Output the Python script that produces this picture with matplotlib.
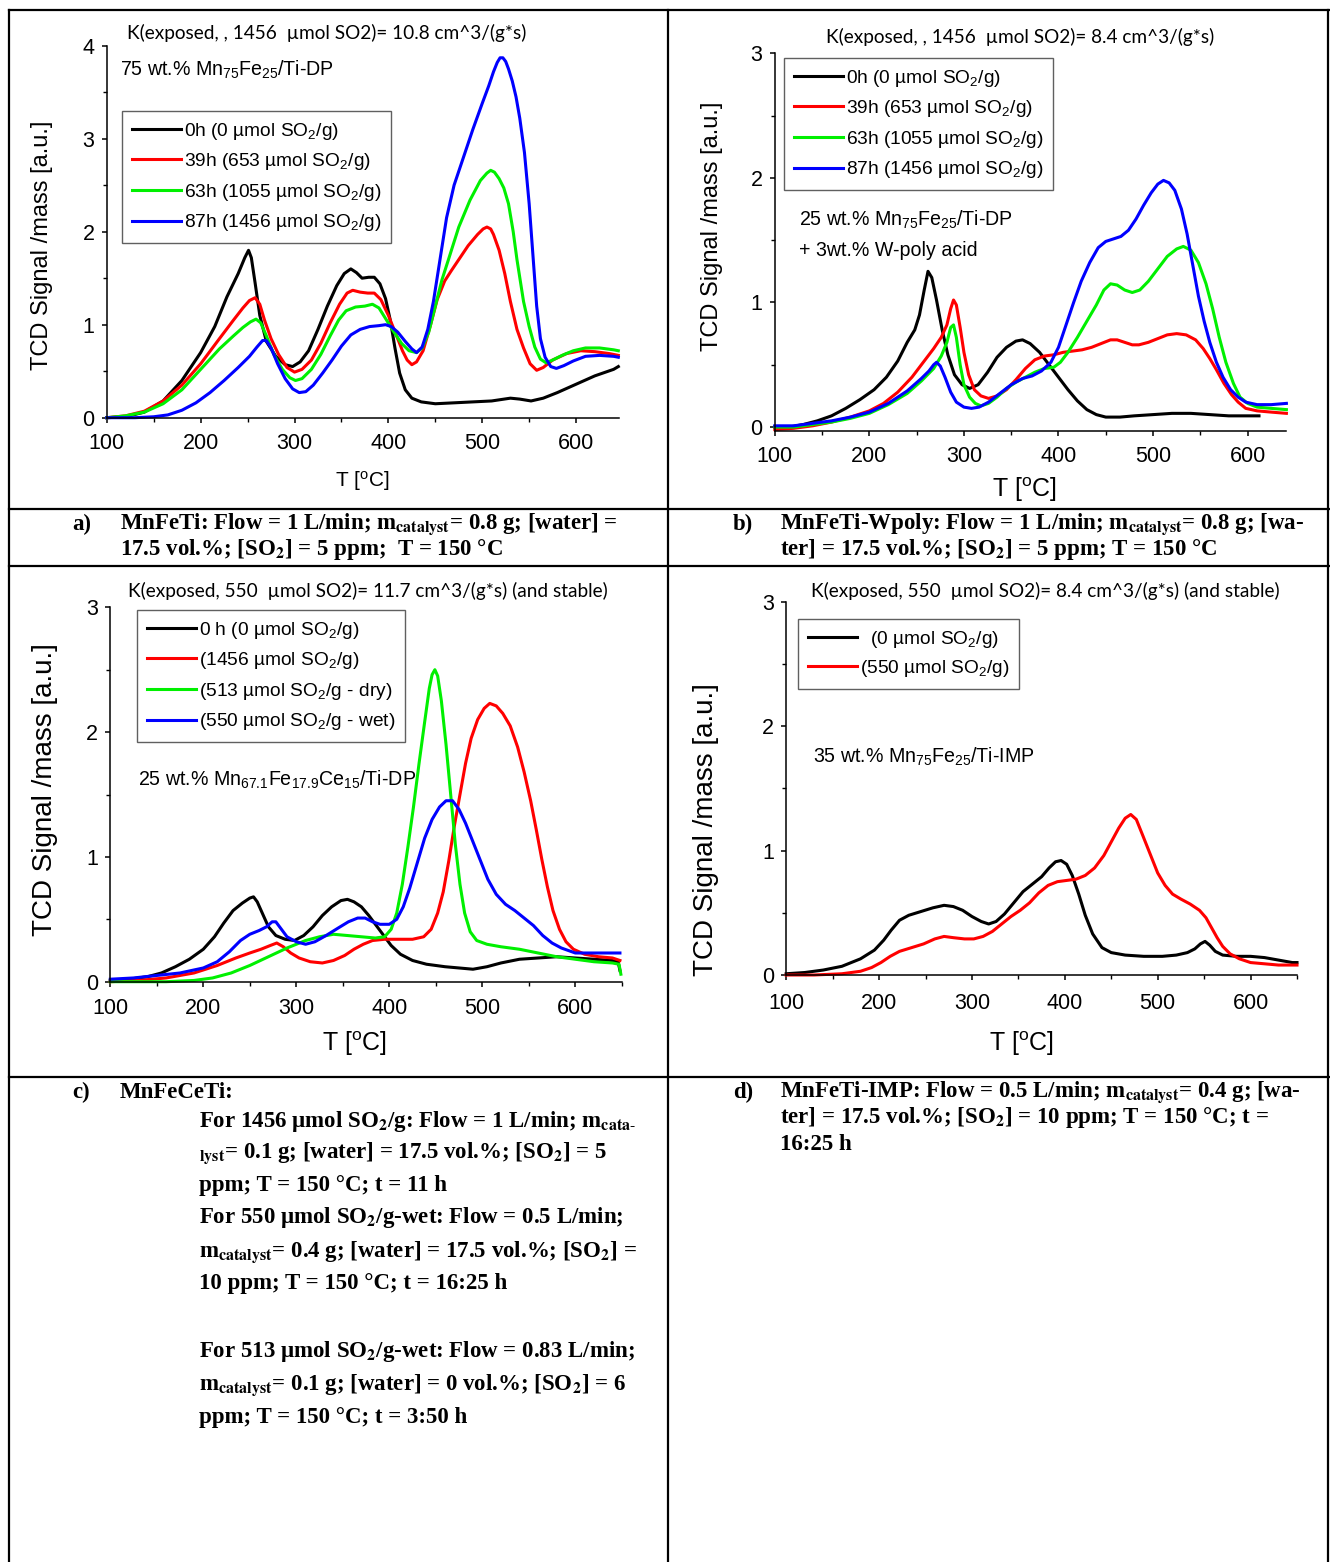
import matplotlib
matplotlib.use("Agg")
import matplotlib.pyplot as plt
from matplotlib.lines import Line2D
from matplotlib.ticker import MultipleLocator

# ---------------------------------------------------------------- data
# a) MnFeTi (75 wt.% Mn75Fe25/Ti-DP)
a_black_T = [100, 120, 140, 160, 180, 200, 215, 228, 240, 247, 251, 254, 258, 263, 270, 280, 290, 298, 306,
             315, 325, 335, 345, 353, 360, 366, 372, 379, 385, 391, 397, 402, 407, 412, 418, 425, 435, 450,
             470, 490, 510, 530, 540, 552, 565, 580, 600, 620, 640, 645]
a_black_v = [0.00, 0.01, 0.06, 0.18, 0.40, 0.70, 0.98, 1.30, 1.55, 1.72, 1.80, 1.72, 1.45, 1.10, 0.82, 0.66,
             0.57, 0.55, 0.60, 0.72, 0.95, 1.20, 1.42, 1.55, 1.60, 1.56, 1.50, 1.51, 1.51, 1.44, 1.28, 1.05,
             0.75, 0.48, 0.30, 0.21, 0.17, 0.15, 0.16, 0.17, 0.18, 0.21, 0.20, 0.18, 0.21, 0.27, 0.36, 0.45,
             0.52, 0.55]
a_red_T = [100, 120, 140, 160, 180, 200, 220, 235, 245, 252, 258, 263, 268, 275, 283, 292, 300, 308, 318, 328,
           338, 348, 356, 362, 370, 378, 385, 392, 400, 408, 415, 420, 425, 430, 437, 445, 452, 460, 467, 475,
           485, 495, 501, 505, 509, 512, 518, 524, 530, 537, 544, 551, 558, 565, 575, 590, 605, 620, 635, 645]
a_red_v = [0.00, 0.02, 0.07, 0.18, 0.35, 0.58, 0.85, 1.05, 1.18, 1.26, 1.29, 1.22, 1.05, 0.85, 0.68, 0.54,
           0.49, 0.52, 0.62, 0.80, 1.02, 1.22, 1.34, 1.37, 1.35, 1.34, 1.34, 1.27, 1.10, 0.90, 0.72, 0.62,
           0.57, 0.60, 0.72, 1.00, 1.27, 1.47, 1.58, 1.70, 1.85, 1.97, 2.03, 2.05, 2.03, 1.97, 1.80, 1.55,
           1.25, 0.95, 0.75, 0.58, 0.51, 0.54, 0.62, 0.69, 0.72, 0.71, 0.69, 0.67]
a_green_T = [100, 120, 140, 160, 180, 200, 220, 235, 245, 253, 259, 264, 270, 278, 287, 295, 301, 308, 318,
             328, 338, 347, 355, 365, 375, 383, 390, 398, 406, 414, 422, 430, 436, 443, 450, 457, 464, 475,
             487, 498, 505, 509, 513, 518, 523, 528, 533, 537, 544, 550, 556, 562, 568, 575, 585, 597, 610,
             625, 640, 645]
a_green_v = [0.00, 0.02, 0.06, 0.15, 0.30, 0.52, 0.74, 0.88, 0.97, 1.03, 1.06, 1.02, 0.88, 0.68, 0.52, 0.43,
             0.40, 0.42, 0.52, 0.68, 0.88, 1.05, 1.15, 1.19, 1.20, 1.22, 1.18, 1.05, 0.92, 0.80, 0.72, 0.70,
             0.75, 0.92, 1.20, 1.48, 1.70, 2.05, 2.34, 2.55, 2.63, 2.66, 2.64, 2.57, 2.47, 2.30, 2.00, 1.70,
             1.25, 0.98, 0.76, 0.63, 0.59, 0.62, 0.67, 0.72, 0.75, 0.75, 0.73, 0.72]
a_blue_T = [100, 130, 150, 165, 180, 195, 210, 225, 240, 252, 260, 266, 270, 275, 282, 290, 298, 305, 312, 320,
            330, 340, 350, 360, 370, 380, 390, 397, 403, 410, 418, 425, 430, 436, 442, 448, 455, 462, 470,
            480, 490, 500, 507, 512, 516, 519, 522, 525, 528, 532, 536, 540, 545, 550, 554, 558, 562, 567,
            573, 579, 587, 597, 610, 625, 640, 645]
a_blue_v = [0.00, 0.00, 0.01, 0.03, 0.08, 0.16, 0.27, 0.40, 0.54, 0.66, 0.76, 0.83, 0.83, 0.75, 0.58, 0.42,
            0.31, 0.27, 0.28, 0.35, 0.48, 0.62, 0.77, 0.89, 0.95, 0.98, 0.99, 1.00, 0.98, 0.92, 0.82, 0.74,
            0.70, 0.76, 0.95, 1.25, 1.70, 2.15, 2.50, 2.80, 3.10, 3.38, 3.57, 3.72, 3.82, 3.87, 3.87, 3.83,
            3.75, 3.62, 3.45, 3.22, 2.85, 2.30, 1.75, 1.20, 0.85, 0.65, 0.55, 0.53, 0.56, 0.61, 0.66, 0.67,
            0.66, 0.65]

# b) MnFeTi-Wpoly (25 wt.% Mn75Fe25/Ti-DP + 3 wt.% W-poly acid)
b_black_T = [100, 115, 130, 145, 160, 175, 190, 205, 218, 230, 240, 248, 253, 258, 262, 266, 271, 277, 283,
             290, 298, 306, 315, 325, 335, 345, 355, 362, 370, 380, 390, 400, 410, 420, 430, 440, 450, 465,
             480, 500, 520, 540, 560, 580, 600, 612]
b_black_v = [0.00, 0.00, 0.02, 0.05, 0.09, 0.15, 0.22, 0.30, 0.40, 0.53, 0.68, 0.78, 0.90, 1.10, 1.25, 1.20,
             1.02, 0.78, 0.58, 0.42, 0.34, 0.31, 0.34, 0.44, 0.56, 0.64, 0.69, 0.70, 0.67, 0.60, 0.50, 0.40,
             0.30, 0.21, 0.14, 0.10, 0.08, 0.08, 0.09, 0.10, 0.11, 0.11, 0.10, 0.09, 0.09, 0.09]
b_red_T = [100, 120, 140, 160, 180, 200, 215, 230, 245, 258, 268, 276, 282, 286, 289, 292, 296, 300, 305, 311,
           318, 326, 335, 345, 355, 365, 375, 385, 395, 405, 415, 425, 435, 445, 455, 462, 470, 478, 485,
           495, 505, 515, 525, 535, 545, 553, 560, 567, 575, 583, 590, 598, 610, 625, 641]
b_red_v = [-0.02, -0.01, 0.01, 0.04, 0.08, 0.13, 0.19, 0.28, 0.40, 0.53, 0.63, 0.72, 0.82, 0.95, 1.02, 0.98,
           0.80, 0.60, 0.42, 0.30, 0.25, 0.23, 0.25, 0.30, 0.38, 0.47, 0.54, 0.57, 0.58, 0.60, 0.61, 0.62,
           0.64, 0.67, 0.70, 0.70, 0.68, 0.66, 0.66, 0.68, 0.71, 0.74, 0.75, 0.74, 0.70, 0.63, 0.55, 0.46,
           0.35, 0.26, 0.20, 0.15, 0.13, 0.12, 0.11]
b_green_T = [100, 120, 140, 160, 180, 200, 220, 240, 255, 268, 276, 282, 286, 289, 292, 296, 300, 306, 312,
             318, 326, 335, 345, 355, 365, 375, 385, 395, 402, 410, 420, 430, 440, 448, 455, 462, 470, 478,
             486, 495, 505, 515, 525, 532, 540, 548, 556, 563, 570, 577, 585, 592, 600, 610, 625, 641]
b_green_v = [0.00, 0.00, 0.02, 0.04, 0.07, 0.11, 0.18, 0.27, 0.37, 0.47, 0.57, 0.68, 0.80, 0.82, 0.72, 0.50,
             0.34, 0.24, 0.19, 0.17, 0.19, 0.24, 0.31, 0.36, 0.40, 0.44, 0.47, 0.48, 0.52, 0.60, 0.72, 0.85,
             0.98, 1.10, 1.15, 1.14, 1.10, 1.08, 1.10, 1.17, 1.27, 1.37, 1.43, 1.45, 1.42, 1.32, 1.15, 0.95,
             0.72, 0.52, 0.35, 0.24, 0.19, 0.16, 0.15, 0.14]
b_blue_T = [100, 120, 140, 160, 180, 200, 220, 240, 255, 263, 268, 271, 275, 280, 286, 292, 300, 308, 316, 326,
            338, 350, 362, 372, 382, 392, 400, 408, 416, 424, 433, 442, 450, 458, 466, 474, 482, 490, 498,
            505, 511, 517, 523, 530, 536, 542, 548, 554, 560, 567, 574, 582, 590, 598, 610, 625, 641]
b_blue_v = [0.01, 0.01, 0.03, 0.05, 0.08, 0.12, 0.19, 0.29, 0.39, 0.45, 0.50, 0.52, 0.49, 0.40, 0.28, 0.20,
            0.16, 0.15, 0.16, 0.20, 0.27, 0.34, 0.39, 0.41, 0.45, 0.52, 0.64, 0.82, 1.00, 1.17, 1.32, 1.44,
            1.49, 1.51, 1.53, 1.58, 1.67, 1.78, 1.88, 1.95, 1.98, 1.96, 1.90, 1.75, 1.55, 1.30, 1.05, 0.85,
            0.68, 0.52, 0.40, 0.30, 0.24, 0.20, 0.18, 0.18, 0.19]

# c) MnFeCeTi (25 wt.% Mn67.1Fe17.9Ce15/Ti-DP)
c_black_T = [100, 120, 140, 155, 170, 185, 200, 212, 222, 232, 242, 250, 254, 258, 264, 270, 278, 288, 298,
             308, 318, 328, 338, 348, 355, 362, 370, 378, 386, 394, 402, 412, 425, 440, 460, 475, 490, 505,
             520, 540, 560, 580, 600, 620, 640, 646, 648]
c_black_v = [0.01, 0.02, 0.04, 0.07, 0.12, 0.18, 0.26, 0.36, 0.47, 0.57, 0.63, 0.67, 0.68, 0.64, 0.54, 0.44,
             0.37, 0.34, 0.33, 0.37, 0.44, 0.53, 0.60, 0.65, 0.66, 0.64, 0.60, 0.53, 0.45, 0.37, 0.29, 0.22,
             0.17, 0.14, 0.12, 0.11, 0.10, 0.12, 0.15, 0.18, 0.19, 0.20, 0.19, 0.18, 0.17, 0.16, 0.09]
c_red_T = [100, 130, 160, 190, 215, 235, 250, 262, 272, 279, 286, 294, 303, 315, 328, 340, 352, 362, 372, 382,
           395, 410, 425, 437, 445, 452, 458, 464, 470, 476, 482, 488, 495, 502, 508, 515, 522, 530, 538,
           545, 552, 558, 564, 570, 576, 583, 590, 598, 610, 625, 640, 648]
c_red_v = [0.00, 0.01, 0.03, 0.07, 0.13, 0.19, 0.23, 0.26, 0.29, 0.31, 0.28, 0.23, 0.19, 0.16, 0.15, 0.17,
           0.21, 0.26, 0.30, 0.33, 0.34, 0.34, 0.34, 0.36, 0.42, 0.55, 0.72, 0.97, 1.25, 1.50, 1.75, 1.95,
           2.10, 2.19, 2.23, 2.21, 2.15, 2.05, 1.88, 1.68, 1.45, 1.22, 0.98, 0.76, 0.57, 0.42, 0.32, 0.26,
           0.22, 0.20, 0.19, 0.17]
c_green_T = [100, 130, 160, 190, 210, 230, 250, 270, 290, 310, 325, 340, 355, 370, 385, 395, 402, 408, 414,
             420, 426, 432, 438, 443, 446, 449, 452, 456, 461, 466, 471, 476, 481, 487, 494, 505, 520, 540,
             560, 580, 600, 620, 640, 647, 649]
c_green_v = [0.00, 0.00, 0.00, 0.01, 0.03, 0.07, 0.13, 0.20, 0.27, 0.33, 0.36, 0.38, 0.37, 0.36, 0.35, 0.36,
             0.42, 0.55, 0.78, 1.08, 1.40, 1.75, 2.08, 2.35, 2.46, 2.50, 2.45, 2.25, 1.90, 1.50, 1.10, 0.78,
             0.55, 0.40, 0.33, 0.30, 0.28, 0.26, 0.23, 0.20, 0.18, 0.16, 0.15, 0.14, 0.06]
c_blue_T = [100, 125, 150, 175, 200, 215, 228, 240, 250, 260, 268, 274, 278, 283, 290, 300, 310, 320, 332, 345,
            356, 366, 374, 382, 390, 400, 408, 415, 422, 430, 438, 446, 454, 461, 468, 475, 482, 490, 498,
            506, 515, 525, 535, 545, 555, 565, 575, 585, 600, 620, 640, 648]
c_blue_v = [0.02, 0.03, 0.05, 0.07, 0.11, 0.16, 0.24, 0.33, 0.38, 0.41, 0.44, 0.48, 0.48, 0.43, 0.36, 0.32,
            0.30, 0.32, 0.37, 0.43, 0.48, 0.51, 0.51, 0.48, 0.46, 0.46, 0.50, 0.60, 0.75, 0.95, 1.15, 1.30,
            1.40, 1.45, 1.45, 1.38, 1.27, 1.12, 0.97, 0.82, 0.70, 0.62, 0.57, 0.51, 0.45, 0.37, 0.31, 0.27,
            0.23, 0.23, 0.23, 0.23]

# d) MnFeTi-IMP (35 wt.% Mn75Fe25/Ti-IMP)
d_black_T = [100, 120, 140, 160, 180, 195, 205, 213, 222, 232, 245, 258, 270, 280, 290, 300, 310, 318, 326,
             335, 345, 355, 365, 375, 383, 390, 396, 402, 408, 415, 422, 430, 440, 450, 465, 485, 505, 520,
             532, 540, 546, 551, 556, 562, 570, 585, 600, 615, 630, 645, 650]
d_black_v = [0.01, 0.02, 0.04, 0.07, 0.13, 0.20, 0.28, 0.36, 0.44, 0.48, 0.51, 0.54, 0.56, 0.55, 0.52, 0.47,
             0.43, 0.41, 0.43, 0.49, 0.58, 0.67, 0.73, 0.79, 0.86, 0.91, 0.92, 0.89, 0.80, 0.65, 0.48, 0.33,
             0.22, 0.18, 0.16, 0.15, 0.15, 0.16, 0.18, 0.21, 0.25, 0.27, 0.24, 0.19, 0.16, 0.15, 0.15, 0.14,
             0.12, 0.10, 0.10]
d_red_T = [100, 130, 160, 180, 192, 202, 212, 222, 235, 248, 260, 270, 280, 292, 302, 312, 322, 332, 342, 352,
           362, 372, 382, 392, 402, 412, 422, 432, 442, 450, 458, 465, 471, 477, 484, 492, 500, 508, 516,
           525, 535, 545, 552, 558, 564, 570, 578, 588, 600, 615, 630, 645, 650]
d_red_v = [0.00, 0.00, 0.01, 0.03, 0.06, 0.10, 0.15, 0.19, 0.22, 0.25, 0.29, 0.31, 0.30, 0.29, 0.29, 0.31,
           0.35, 0.41, 0.47, 0.52, 0.58, 0.66, 0.72, 0.75, 0.76, 0.77, 0.80, 0.86, 0.96, 1.07, 1.18, 1.26,
           1.29, 1.25, 1.12, 0.97, 0.82, 0.72, 0.65, 0.61, 0.57, 0.52, 0.46, 0.38, 0.30, 0.23, 0.17, 0.13,
           0.10, 0.09, 0.08, 0.08, 0.08]

labels_ab = ["0h (0 µmol SO$_2$/g)", "39h (653 µmol SO$_2$/g)",
             "63h (1055 µmol SO$_2$/g)", "87h (1456 µmol SO$_2$/g)"]
labels_c = ["0 h (0 µmol SO$_2$/g)", "(1456 µmol SO$_2$/g)",
            "(513 µmol SO$_2$/g - dry)", "(550 µmol SO$_2$/g - wet)"]
labels_d = ["  (0 µmol SO$_2$/g)", "(550 µmol SO$_2$/g)"]

k_texts = ["K(exposed, , 1456  µmol SO2)= 10.8 cm^3/(g*s)",
           "K(exposed, , 1456  µmol SO2)= 8.4 cm^3/(g*s)",
           "K(exposed, 550  µmol SO2)= 11.7 cm^3/(g*s) (and stable)",
           "K(exposed, 550  µmol SO2)= 8.4 cm^3/(g*s) (and stable)"]

# ---------------------------------------------------------------- style
W, H = 1330, 1562
plt.rcParams.update({
    "font.family": ["Liberation Sans", "DejaVu Sans"],
    "mathtext.fontset": "custom",
    "mathtext.rm": "Liberation Sans",
    "mathtext.it": "Liberation Sans:italic",
    "mathtext.bf": "Liberation Sans:bold",
    "axes.linewidth": 1.1,
})

BLACK, RED, GREEN, BLUE = "#000000", "#ff0000", "#00f000", "#0000ff"
LW = 2.2


def fx(x):
    return x / W


def fy(y):
    return 1 - y / H


fig = plt.figure(figsize=(W / 100, H / 100), dpi=100)


def make_axes(x0, x1, ytop, ybot, xlim, ylim, ymajor):
    ax = fig.add_axes([fx(x0), fy(ybot), (x1 - x0) / W, (ybot - ytop) / H])
    ax.set_xlim(*xlim)
    ax.set_ylim(*ylim)
    for s in ("top", "right"):
        ax.spines[s].set_visible(False)
    ax.xaxis.set_major_locator(MultipleLocator(100))
    ax.xaxis.set_minor_locator(MultipleLocator(50))
    ax.yaxis.set_major_locator(MultipleLocator(ymajor))
    ax.yaxis.set_minor_locator(MultipleLocator(ymajor / 2))
    ax.tick_params(which="major", direction="out", length=3.8, width=1.1, labelsize=15.5)
    ax.tick_params(which="minor", direction="out", length=2.6, width=1.0)
    ax.tick_params(axis="x", pad=7)
    ax.tick_params(axis="y", pad=5)
    ax.set_facecolor("none")
    return ax


def curves(ax, series):
    out = []
    for T, v, c in series:
        ln, = ax.plot(T, v, color=c, lw=LW, clip_on=False, solid_joinstyle="round")
        out.append(ln)
    return out


def legend(ax, handles, labels, x, y, spacing=0.5):
    leg = ax.legend(handles, labels, loc="upper left", bbox_to_anchor=(fx(x), fy(y)),
                    bbox_transform=fig.transFigure, borderaxespad=0, frameon=True,
                    fancybox=False, framealpha=1, edgecolor="#606060",
                    handlelength=2.6, handletextpad=0.12, borderpad=0.5,
                    labelspacing=spacing, prop={"family": "Liberation Sans", "size": 13.8})
    leg.get_frame().set_linewidth(1.0)
    return leg


def ktext(x, y, s):
    fig.text(fx(x), fy(y), s, ha="left", va="center", fontsize=13.7, family=["Lato", "DejaVu Sans"])


def note(x, y, s, size=14.1):
    fig.text(fx(x), fy(y), s, ha="left", va="center", fontsize=size, family="Liberation Sans")


def labels(ax, xl, yl, xsize, ysize):
    ax.set_xlabel("T [$^{\\mathrm{o}}$C]", fontsize=xsize, va="center", ha="center")
    ax.xaxis.set_label_coords(fx(xl[0]), fy(xl[1]), transform=fig.transFigure)
    ax.set_ylabel("TCD Signal /mass [a.u.]", fontsize=ysize, va="center", ha="center")
    ax.yaxis.set_label_coords(fx(yl[0]), fy(yl[1]), transform=fig.transFigure)


# ---------------------------------------------------------------- panel a
ax_a = make_axes(106.8, 618.8, 45.7, 417.7, (100, 645.5), (0, 4), 1)
la = curves(ax_a, [(a_black_T, a_black_v, BLACK), (a_red_T, a_red_v, RED),
                   (a_green_T, a_green_v, GREEN), (a_blue_T, a_blue_v, BLUE)])
legend(ax_a, la, labels_ab, 122, 111)
labels(ax_a, (362, 481), (42, 245), 15, 17)
ktext(127, 33, k_texts[0])
note(120, 70, "75 wt.% Mn$_{75}$Fe$_{25}$/Ti-DP")

# ---------------------------------------------------------------- panel b
ax_b = make_axes(774.8, 1286.4, 53.3, 430.8, (100, 641), (-0.03, 3), 1)
lb = curves(ax_b, [(b_black_T, b_black_v, BLACK), (b_red_T, b_red_v, RED),
                   (b_green_T, b_green_v, GREEN), (b_blue_T, b_blue_v, BLUE)])
legend(ax_b, lb, labels_ab, 784, 58)
labels(ax_b, (1025, 490), (712, 226), 18, 17)
ktext(826, 37, k_texts[1])
note(799, 220, "25 wt.% Mn$_{75}$Fe$_{25}$/Ti-DP")
note(799, 251, "+ 3wt.% W-poly acid")

# ---------------------------------------------------------------- panel c
ax_c = make_axes(110.3, 621.8, 607.3, 981.7, (100, 650), (0, 3), 1)
ax_c.tick_params(axis="x", pad=8)
lc = curves(ax_c, [(c_black_T, c_black_v, BLACK), (c_red_T, c_red_v, RED),
                   (c_green_T, c_green_v, GREEN), (c_blue_T, c_blue_v, BLUE)])
legend(ax_c, lc, labels_c, 137, 610)
labels(ax_c, (355, 1044), (45, 790), 18, 20)
ktext(128, 591, k_texts[2])
note(138, 780, "25 wt.% Mn$_{67.1}$Fe$_{17.9}$Ce$_{15}$/Ti-DP")

# ---------------------------------------------------------------- panel d
ax_d = make_axes(786.2, 1297, 601.7, 975, (100, 650), (0, 3), 1)
ax_d.tick_params(axis="x", pad=9)
ld = curves(ax_d, [(d_black_T, d_black_v, BLACK), (d_red_T, d_red_v, RED)])
legend(ax_d, ld, labels_d, 798, 619, spacing=0.45)
labels(ax_d, (1022, 1044), (706, 830), 18, 20)
ktext(811, 591, k_texts[3])
note(813, 757, "35 wt.% Mn$_{75}$Fe$_{25}$/Ti-IMP")

# ---------------------------------------------------------------- table frame
def hline(y, x0=9, x1=1328.5):
    fig.add_artist(Line2D([fx(x0), fx(x1)], [fy(y), fy(y)], transform=fig.transFigure,
                          color="black", lw=1.6))


def vline(x, y0=9.5, y1=1562):
    fig.add_artist(Line2D([fx(x), fx(x)], [fy(y0), fy(y1)], transform=fig.transFigure,
                          color="black", lw=1.6))


hline(10)
hline(509)
hline(566)
hline(1077)
vline(9)
vline(668)
vline(1328)

# ---------------------------------------------------------------- captions
CAP = dict(ha="left", va="center", fontsize=16.5, family="Liberation Serif",
           weight="bold", math_fontfamily="stix")
SO2 = "[SO$_{\\mathbf{2}}$]"
MCAT = "m$_{\\mathbf{catalyst}}$"


def cap(x, y, s):
    fig.text(fx(x), fy(y), s, **CAP)


cap(72, 524, "a)")
cap(120, 524, "MnFeTi: Flow = 1 L/min; " + MCAT + "= 0.8 g; [water] =")
cap(120, 549, "17.5 vol.%; " + SO2 + " = 5 ppm;  T = 150 °C")

cap(733, 524, "b)")
cap(780, 524, "MnFeTi-Wpoly: Flow = 1 L/min; " + MCAT + "= 0.8 g; [wa-")
cap(780, 549, "ter] = 17.5 vol.%; " + SO2 + " = 5 ppm; T = 150 °C")

cap(72, 1092, "c)")
cap(120, 1092, "MnFeCeTi:")
cap(199, 1121, "For 1456 µmol SO$_{\\mathbf{2}}$/g: Flow = 1 L/min; m$_{\\mathbf{cata\\text{-}}}$")
cap(199, 1153, "${}_{\\mathbf{lyst}}$= 0.1 g; [water] = 17.5 vol.%; " + SO2 + " = 5")
cap(199, 1186, "ppm; T = 150 °C; t = 11 h")
cap(199, 1218, "For 550 µmol SO$_{\\mathbf{2}}$/g-wet: Flow = 0.5 L/min;")
cap(199, 1252, MCAT + "= 0.4 g; [water] = 17.5 vol.%; " + SO2 + " =")
cap(199, 1284, "10 ppm; T = 150 °C; t = 16:25 h")
cap(199, 1351, "For 513 µmol SO$_{\\mathbf{2}}$/g-wet: Flow = 0.83 L/min;")
cap(199, 1385, MCAT + "= 0.1 g; [water] = 0 vol.%; " + SO2 + " = 6")
cap(199, 1418, "ppm; T = 150 °C; t = 3:50 h")

cap(733, 1092, "d)")
cap(780, 1092, "MnFeTi-IMP: Flow = 0.5 L/min; " + MCAT + "= 0.4 g; [wa-")
cap(780, 1118, "ter] = 17.5 vol.%; " + SO2 + " = 10 ppm; T = 150 °C; t =")
cap(780, 1145, "16:25 h")

fig.savefig("out.png", dpi=100, facecolor="white")
